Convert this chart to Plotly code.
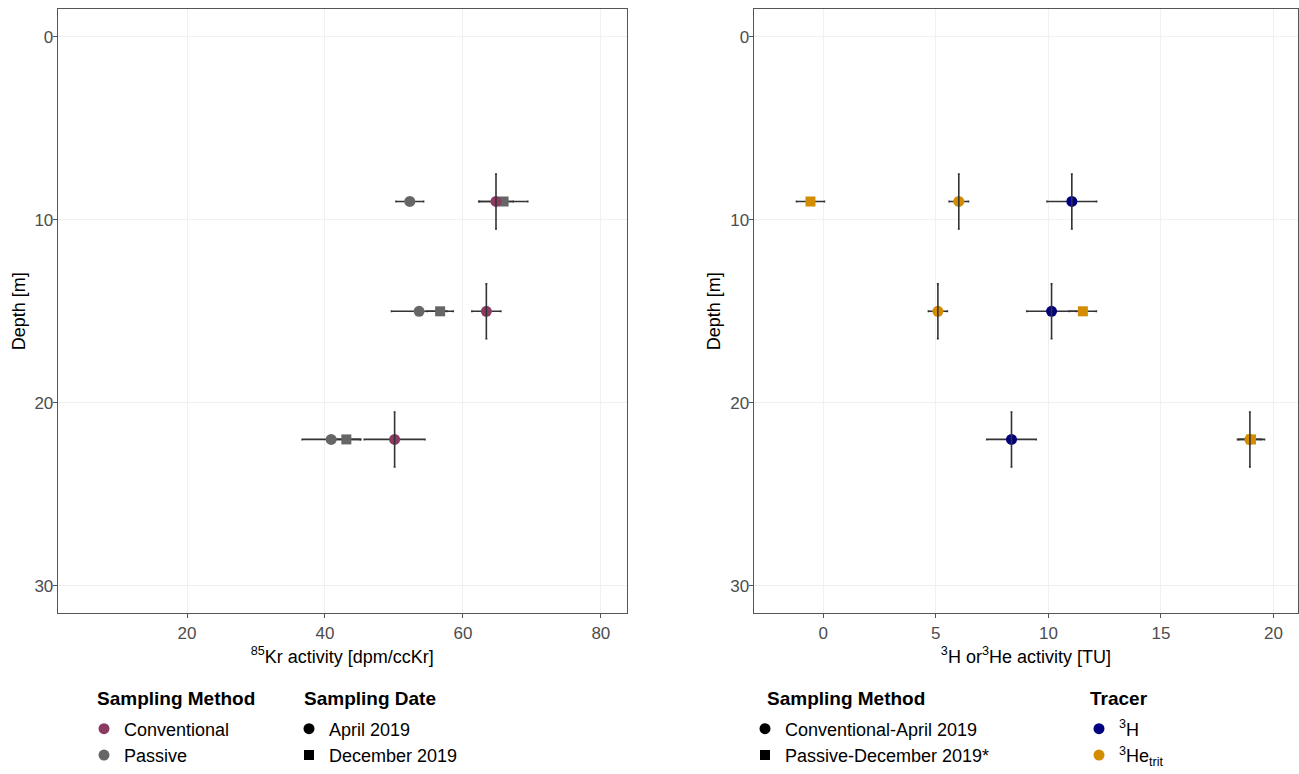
import plotly.graph_objects as go

# ---------------- data ----------------
depth = [9, 15, 22]
depth_err = [1.5, 1.5, 1.5]

kr_conv = [64.8, 63.4, 50.1]
kr_conv_err = [2.5, 2.1, 4.4]
kr_pas_apr = [52.3, 53.65, 40.9]
kr_pas_apr_err = [2.0, 4.0, 4.2]
kr_pas_dec = [65.9, 56.7, 43.1]
kr_pas_dec_err = [3.5, 1.9, 2.1]

h3_conv = [11.04, 10.14, 8.36]
h3_conv_err = [1.1, 1.1, 1.1]
he_conv = [6.02, 5.09, 18.95]
he_conv_err = [0.43, 0.42, 0.5]
he_pas = [-0.57, 11.53, 19.0]
he_pas_err = [0.62, 0.6, 0.6]

left_xticks = [20, 40, 60, 80]
right_xticks = [0, 5, 10, 15, 20]
y_ticks = [0, 10, 20, 30]

# ---------------- style ----------------
W, H = 1299, 774
PINK = "#8B3A62"
GREY = "#666666"
NAVY = "#000080"
ORANGE = "#D48C00"
ERR = "#333333"
FONT = "Liberation Sans, Arial, sans-serif"

fig = go.Figure()


def herr(x, y, e, xa, ya):
    return go.Scatter(x=x, y=y, xaxis=xa, yaxis=ya, mode="markers",
                      marker=dict(color="rgba(0,0,0,0)", size=1),
                      error_x=dict(type="data", array=e, color=ERR, thickness=1.6, width=1),
                      showlegend=False, hoverinfo="skip")


def verr(x, y, e, xa, ya):
    return go.Scatter(x=x, y=y, xaxis=xa, yaxis=ya, mode="markers",
                      marker=dict(color="rgba(0,0,0,0)", size=1),
                      error_y=dict(type="data", array=e, color=ERR, thickness=1.6, width=1),
                      showlegend=False, hoverinfo="skip")


def pts(x, y, color, symbol, xa, ya, name):
    return go.Scatter(x=x, y=y, xaxis=xa, yaxis=ya, mode="markers", name=name,
                      marker=dict(color=color, symbol=symbol, size=11 if symbol == "circle" else 10,
                                  line=dict(width=0)),
                      showlegend=False)


# left panel
fig.add_trace(herr(kr_pas_apr, depth, kr_pas_apr_err, "x", "y"))
fig.add_trace(herr(kr_pas_dec, depth, kr_pas_dec_err, "x", "y"))
fig.add_trace(herr(kr_conv, depth, kr_conv_err, "x", "y"))
fig.add_trace(pts(kr_pas_dec, depth, GREY, "square", "x", "y", "Passive Dec"))
fig.add_trace(pts(kr_pas_apr, depth, GREY, "circle", "x", "y", "Passive Apr"))
fig.add_trace(pts(kr_conv, depth, PINK, "circle", "x", "y", "Conventional"))
fig.add_trace(verr(kr_conv, depth, depth_err, "x", "y"))

# right panel
fig.add_trace(herr(h3_conv, depth, h3_conv_err, "x2", "y2"))
fig.add_trace(herr(he_conv, depth, he_conv_err, "x2", "y2"))
fig.add_trace(herr(he_pas, depth, he_pas_err, "x2", "y2"))
fig.add_trace(pts(h3_conv, depth, NAVY, "circle", "x2", "y2", "3H"))
fig.add_trace(pts(he_conv, depth, ORANGE, "circle", "x2", "y2", "3He conv"))
fig.add_trace(pts(he_pas, depth, ORANGE, "square", "x2", "y2", "3He passive"))
fig.add_trace(verr(h3_conv, depth, depth_err, "x2", "y2"))
fig.add_trace(verr(he_conv, depth, depth_err, "x2", "y2"))


# legends (dummy entries)
def leg(name, color, symbol, legend):
    fig.add_trace(go.Scatter(x=[None], y=[None], mode="markers", name=name,
                             marker=dict(color=color, symbol=symbol, size=11 if symbol == "circle" else 10),
                             legend=legend, showlegend=True, hoverinfo="skip"))


leg("Conventional", PINK, "circle", "legend")
leg("Passive", GREY, "circle", "legend")
leg("April 2019", "black", "circle", "legend2")
leg("December 2019", "black", "square", "legend2")
leg("Conventional-April 2019", "black", "circle", "legend3")
leg("Passive-December 2019*", "black", "square", "legend3")
leg("<sup>3</sup>H", NAVY, "circle", "legend4")
leg("<sup>3</sup>He<sub>trit</sub>", ORANGE, "circle", "legend4")

legfont = dict(family=FONT, size=18, color="black")


def legbox(x, ybottom):
    return dict(x=x / W, y=1 - ybottom / H, xanchor="left", yanchor="bottom", font=legfont,
                bgcolor="rgba(0,0,0,0)", tracegroupgap=0, itemwidth=30)


ax_common = dict(showgrid=True, gridcolor="#f0f0f0", gridwidth=1, zeroline=False,
                 showline=True, linecolor="#555555", linewidth=1, mirror=True,
                 ticks="outside", ticklen=4, tickcolor="#555555", tickwidth=1,
                 tickfont=dict(family=FONT, size=17, color="#4d4d4d"), automargin=False)

ydom = [1 - 613.3 / H, 1 - 9.3 / H]
tfont = dict(family=FONT, size=18, color="black")

fig.update_layout(
    width=W, height=H, autosize=False, margin=dict(l=0, r=0, t=0, b=0),
    paper_bgcolor="white", plot_bgcolor="white",
    font=dict(family=FONT, color="black"),
    xaxis=dict(ax_common, domain=[57.7 / W, 626.7 / W], range=[1.25, 83.75], tickvals=left_xticks,
               anchor="y",
               title=dict(text="<sup>85</sup>Kr activity [dpm/ccKr]", font=tfont, standoff=8)),
    yaxis=dict(ax_common, domain=ydom, range=[31.5, -1.5], tickvals=y_ticks, anchor="x",
               ticklabelstandoff=-4,
               title=dict(text="Depth [m]", font=tfont, standoff=4)),
    xaxis2=dict(ax_common, domain=[753.5 / W, 1298.3 / W], range=[-3.1, 21.1], tickvals=right_xticks,
                anchor="y2",
                title=dict(text="<sup>3</sup>H or<sup>3</sup>He activity [TU]", font=tfont, standoff=8)),
    yaxis2=dict(ax_common, domain=ydom, range=[31.5, -1.5], tickvals=y_ticks, anchor="x2",
                ticklabelstandoff=-4,
                title=dict(text="Depth [m]", font=tfont, standoff=4)),
    legend=legbox(84, 773.5),
    legend2=legbox(289, 773.5),
    legend3=legbox(745, 773.5),
    legend4=legbox(1079, 773.5),
    showlegend=True,
)

titles = [("Sampling Method", 95), ("Sampling Date", 302), ("Sampling Method", 765), ("Tracer", 1088)]
for t, x in titles:
    fig.add_annotation(text="<b>" + t + "</b>", x=x / W, y=1 - 698 / H, xref="paper", yref="paper",
                       xanchor="left", yanchor="middle", showarrow=False,
                       font=dict(family=FONT, size=19, color="black"))

fig.write_html("out.html", config=dict(displayModeBar=False, responsive=False),
               post_script="document.body.style.margin='0px';document.body.style.overflow='hidden';")
